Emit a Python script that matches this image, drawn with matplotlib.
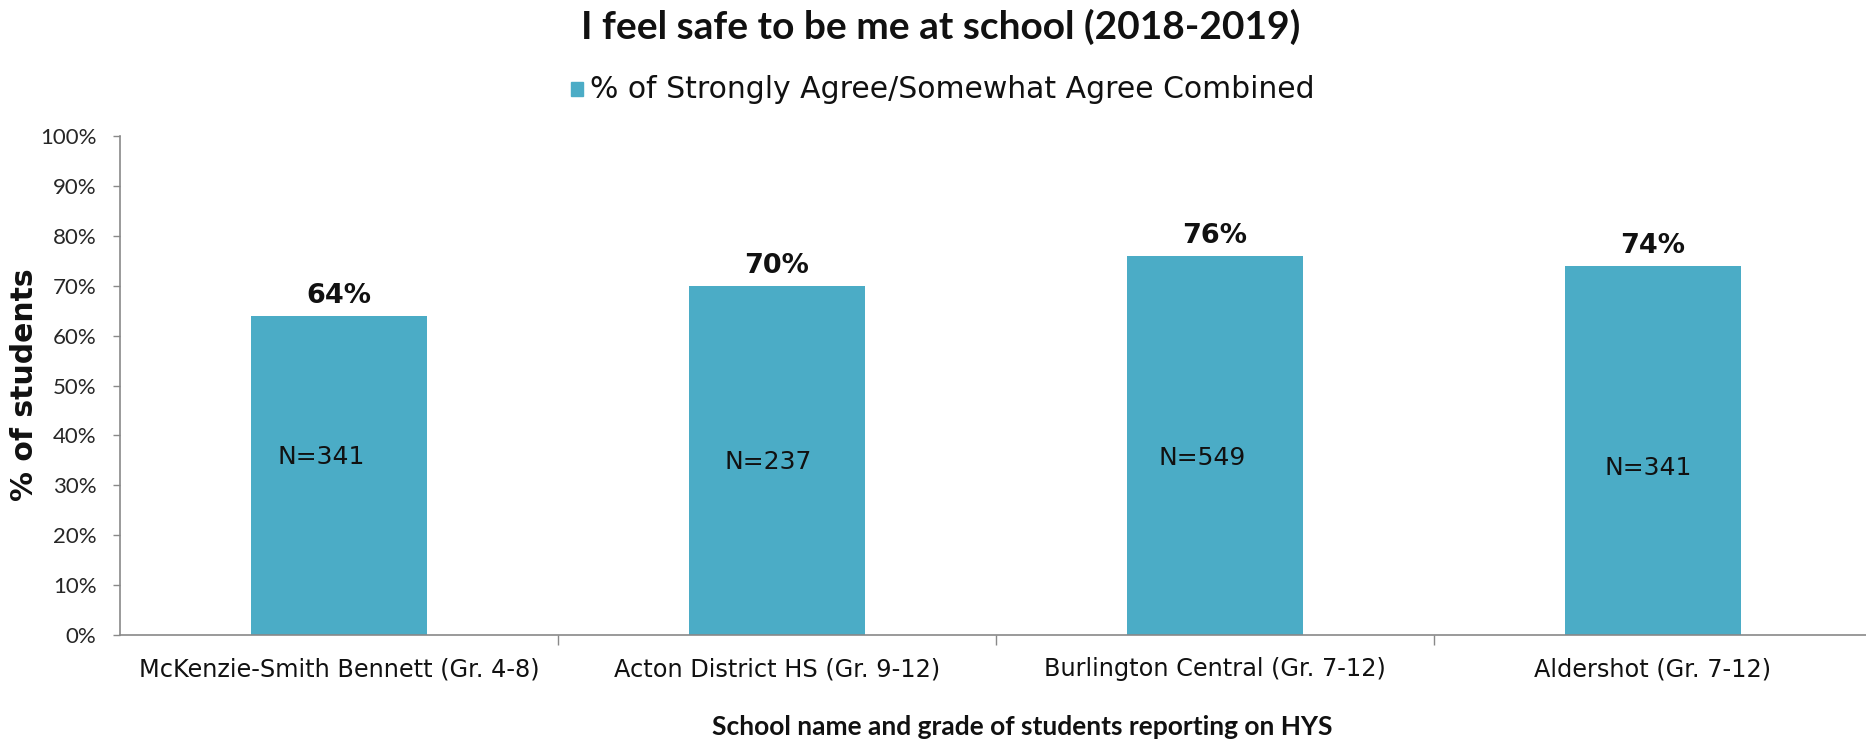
import matplotlib
matplotlib.use("Agg")
import matplotlib.pyplot as plt
from matplotlib.ticker import FixedLocator, PercentFormatter
from matplotlib.patches import Rectangle

# ---- data ----
schools = ["McKenzie-Smith Bennett (Gr. 4-8)", "Acton District HS (Gr. 9-12)",
           "Burlington Central (Gr. 7-12)", "Aldershot (Gr. 7-12)"]
agree_pct = [64, 70, 76, 74]
n_students = [341, 237, 549, 341]
title = "I feel safe to be me at school (2018-2019)"
legend_label = "% of Strongly Agree/Somewhat Agree Combined"
x_title = "School name and grade of students reporting on HYS"
y_title = "% of students"
y_ticks = list(range(0, 101, 10))

# ---- style / placement ----
n_label_y = [35.7, 34.7, 35.5, 33.5]
n_label_dx = [-0.04, -0.02, -0.03, -0.01]
BAR = "#4BACC6"
AXIS = "#898989"

W, H, DPI = 18.66, 7.41, 100
fig = plt.figure(figsize=(W, H), dpi=DPI)
ax = fig.add_axes([120 / 1866, 1 - 635 / 741, 1752 / 1866, (635 - 136) / 741])

x = list(range(len(schools)))
ax.bar(x, agree_pct, width=0.4, color=BAR, zorder=2)
ax.set_xlim(-0.5, 3.5)
ax.set_ylim(0, 100)

for s in ["top", "right"]:
    ax.spines[s].set_visible(False)
for s in ["left", "bottom"]:
    ax.spines[s].set_color(AXIS)
    ax.spines[s].set_linewidth(1.2)

ax.yaxis.set_major_locator(FixedLocator(y_ticks))
ax.yaxis.set_major_formatter(PercentFormatter(decimals=0))
ax.tick_params(axis="y", direction="out", length=5, width=1, color=AXIS, pad=12,
               labelsize=16, labelcolor="#262626")
for lab in ax.get_yticklabels():
    lab.set_family("Lato")

ax.set_xticks(x)
ax.set_xticklabels(schools, family="DejaVu Sans", fontsize=17.3, color="#111111")
ax.tick_params(axis="x", which="major", length=0, pad=16)
ax.set_xticks([0.5, 1.5, 2.5], minor=True)
ax.tick_params(axis="x", which="minor", direction="out", length=7, width=1, color=AXIS)

for xi, v in zip(x, agree_pct):
    ax.annotate(f"{v}%", (xi, v), xytext=(0, 14.5), textcoords="offset points",
                ha="center", va="center", family="DejaVu Sans", fontweight="bold",
                fontsize=19.5, color="#111111")
for xi, n, ny, dx in zip(x, n_students, n_label_y, n_label_dx):
    ax.text(xi + dx, ny, f"N={n}", ha="center", va="center", family="DejaVu Sans",
            fontsize=18, color="#111111")

fig.text(941 / 1866, 1 - 27 / 741, title, ha="center", va="center",
         family="Lato", fontweight="bold", fontsize=28, color="#111111")
fig.text(1022 / 1866, 1 - 727 / 741, x_title, ha="center", va="center",
         family="Lato", fontweight="bold", fontsize=19, color="#111111")
fig.text(25 / 1866, 1 - 385 / 741, y_title, ha="center", va="center", rotation=90,
         family="DejaVu Sans", fontweight="bold", fontsize=21.5, color="#111111")

# legend (marker + text)
fig.patches.append(Rectangle((571 / 1866, 1 - 96 / 741), 12 / 1866, 14 / 741,
                             transform=fig.transFigure, color=BAR, figure=fig))
fig.text(590 / 1866, 1 - 89 / 741, legend_label, ha="left", va="center",
         family="DejaVu Sans", fontsize=21.5, color="#111111")

fig.savefig("out.png", dpi=DPI, facecolor="white")
